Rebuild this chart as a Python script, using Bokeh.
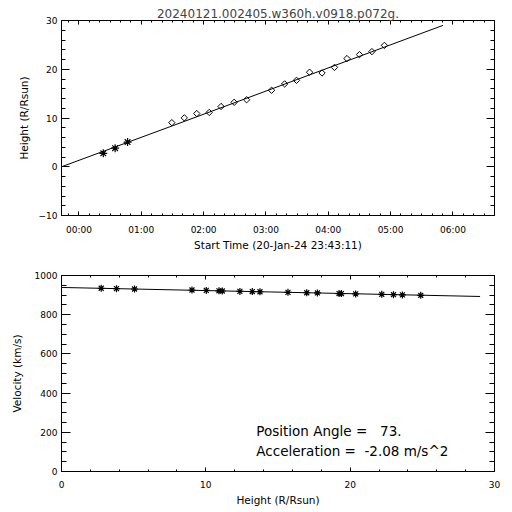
import numpy as np
from bokeh.plotting import figure
from bokeh.models import LinearAxis, FixedTicker, Range1d, Label
from bokeh.layouts import column
from bokeh.embed import file_html
from bokeh.resources import INLINE

# ---------------- data ----------------
title_text = "20240121.002405.w360h.v0918.p072g."
time_axis_label = "Start Time (20-Jan-24 23:43:11)"
height_axis_label = "Height (R/Rsun)"
velocity_axis_label = "Velocity (km/s)"

# hours after 00:00 on 21-Jan-24
c2_time = [0.39, 0.58, 0.78]
c2_height = [2.75, 3.81, 5.06]
c3_time = [1.49, 1.69, 1.89, 2.09, 2.28, 2.49, 2.69, 3.09, 3.30, 3.49,
           3.70, 3.90, 4.10, 4.30, 4.50, 4.70, 4.90]
c3_height = [9.04, 10.03, 10.91, 11.14, 12.36, 13.22, 13.75, 15.69, 16.99, 17.73,
             19.39, 19.23, 20.38, 22.19, 23.00, 23.62, 24.89]

fit_time = [-0.28, 1.5, 3.5, 5.84]
fit_height = [0.0, 8.4, 17.9, 29.0]

time_ticks = [0, 1, 2, 3, 4, 5, 6]
time_tick_labels = ["00:00", "01:00", "02:00", "03:00", "04:00", "05:00", "06:00"]
time_start = -0.2803   # 23:43:11
time_end = 6.667

point_height = [2.75, 3.81, 5.06, 9.04, 10.03, 10.91, 11.14, 12.36, 13.22, 13.75,
                15.69, 16.99, 17.73, 19.23, 19.39, 20.38, 22.19, 23.00, 23.62, 24.89]
point_velocity = [935, 933, 931, 926, 924, 922, 921, 919, 918, 917,
                  914, 912, 911, 908, 908, 906, 904, 902, 901, 899]

vel_fit_height = [0.0, 14.5, 29.0]
vel_fit = [939, 916, 893]

NB = "\u00a0"
pa_text = "Position Angle =" + NB * 2 + " 73."
acc_text = "Acceleration =" + NB + " -2.08 m/s^2"

FONT = "DejaVu Sans"


def style_axis(ax, major_in, minor_in, show_labels=True):
    ax.major_tick_in = major_in
    ax.major_tick_out = 0
    ax.minor_tick_in = minor_in
    ax.minor_tick_out = 0
    ax.axis_line_color = "black"
    ax.major_tick_line_color = "black"
    ax.minor_tick_line_color = "black"
    ax.major_label_text_font = FONT
    ax.axis_label_text_font = FONT
    ax.axis_label_text_font_style = "normal"
    ax.axis_label_text_color = "black"
    if show_labels:
        ax.major_label_text_color = "black"
        ax.major_label_text_font_size = "9px"
        ax.axis_label_text_font_size = "10.5px"
    else:
        ax.major_label_text_color = None
        ax.major_label_text_font_size = "1px"
        ax.major_label_standoff = 0


def mirror(p, loc, ticker, major_in, minor_in):
    ax = LinearAxis(ticker=ticker)
    style_axis(ax, major_in, minor_in, show_labels=False)
    p.add_layout(ax, loc)


# ---------------- top panel ----------------
p1 = figure(width=512, height=258, output_backend="svg", toolbar_location=None,
            x_range=Range1d(time_start, time_end), y_range=Range1d(-10, 30),
            min_border_left=61, min_border_right=18, min_border_top=20,
            min_border_bottom=43)
p1.title.text = title_text
p1.title.align = "center"
p1.title.text_font = FONT
p1.title.text_font_size = "12px"
p1.title.text_font_style = "normal"
p1.title.standoff = 0
p1.grid.visible = False
p1.outline_line_color = "black"
p1.background_fill_color = "white"
p1.border_fill_color = "white"

xt1 = FixedTicker(ticks=time_ticks,
                  minor_ticks=[i / 6 for i in range(-6, 42)])
yt1 = FixedTicker(ticks=[-10, 0, 10, 20, 30], minor_ticks=list(range(-10, 31, 2)))
p1.xaxis.ticker = xt1
p1.yaxis.ticker = yt1
p1.xaxis.major_label_overrides = {t: lab for t, lab in zip(time_ticks, time_tick_labels)}
p1.xaxis.axis_label = time_axis_label
p1.yaxis.axis_label = height_axis_label
style_axis(p1.xaxis[0], 4, 2)
style_axis(p1.yaxis[0], 8, 4)
p1.xaxis.major_label_standoff = 9
p1.xaxis.axis_label_standoff = 1
p1.yaxis.major_label_standoff = 4
p1.yaxis.axis_label_standoff = 6
mirror(p1, "right", yt1, 8, 4)
mirror(p1, "above", xt1, 4, 2)

p1.line(fit_time, fit_height, line_color="black", line_width=1)
p1.scatter(c2_time, c2_height, marker="asterisk", size=8, line_color="black", line_width=1.2)
p1.scatter(c3_time, c3_height, marker="square", angle=np.pi / 4, size=4.5,
           fill_color=None, line_color="black", line_width=1)

# ---------------- bottom panel ----------------
p2 = figure(width=512, height=254, output_backend="svg", toolbar_location=None,
            x_range=Range1d(0, 30), y_range=Range1d(0, 1000),
            min_border_left=61, min_border_right=18, min_border_top=17,
            min_border_bottom=41)
p2.grid.visible = False
p2.outline_line_color = "black"
p2.background_fill_color = "white"
p2.border_fill_color = "white"

xt2 = FixedTicker(ticks=[0, 10, 20, 30], minor_ticks=list(range(0, 31, 2)))
yt2 = FixedTicker(ticks=[0, 200, 400, 600, 800, 1000], minor_ticks=list(range(0, 1001, 50)))
p2.xaxis.ticker = xt2
p2.yaxis.ticker = yt2
p2.xaxis.axis_label = height_axis_label
p2.yaxis.axis_label = velocity_axis_label
style_axis(p2.xaxis[0], 4, 2)
style_axis(p2.yaxis[0], 9, 5)
p2.xaxis.major_label_standoff = 9
p2.xaxis.axis_label_standoff = 3
p2.yaxis.major_label_standoff = 4
p2.yaxis.axis_label_standoff = 9
mirror(p2, "right", yt2, 9, 5)
mirror(p2, "above", xt2, 4, 2)

p2.line(vel_fit_height, vel_fit, line_color="black", line_width=1)
p2.scatter(point_height, point_velocity, marker="asterisk", size=7,
           line_color="black", line_width=1.2)

p2.add_layout(Label(x=13.5, y=209, text=pa_text, text_font=FONT,
                    text_font_size="13.5px", text_color="black",
                    text_baseline="alphabetic"))
p2.add_layout(Label(x=13.5, y=107, text=acc_text, text_font=FONT,
                    text_font_size="13.5px", text_color="black",
                    text_baseline="alphabetic"))

layout = column(p1, p2, spacing=0)
open("out.html", "w").write(file_html(layout, INLINE))
